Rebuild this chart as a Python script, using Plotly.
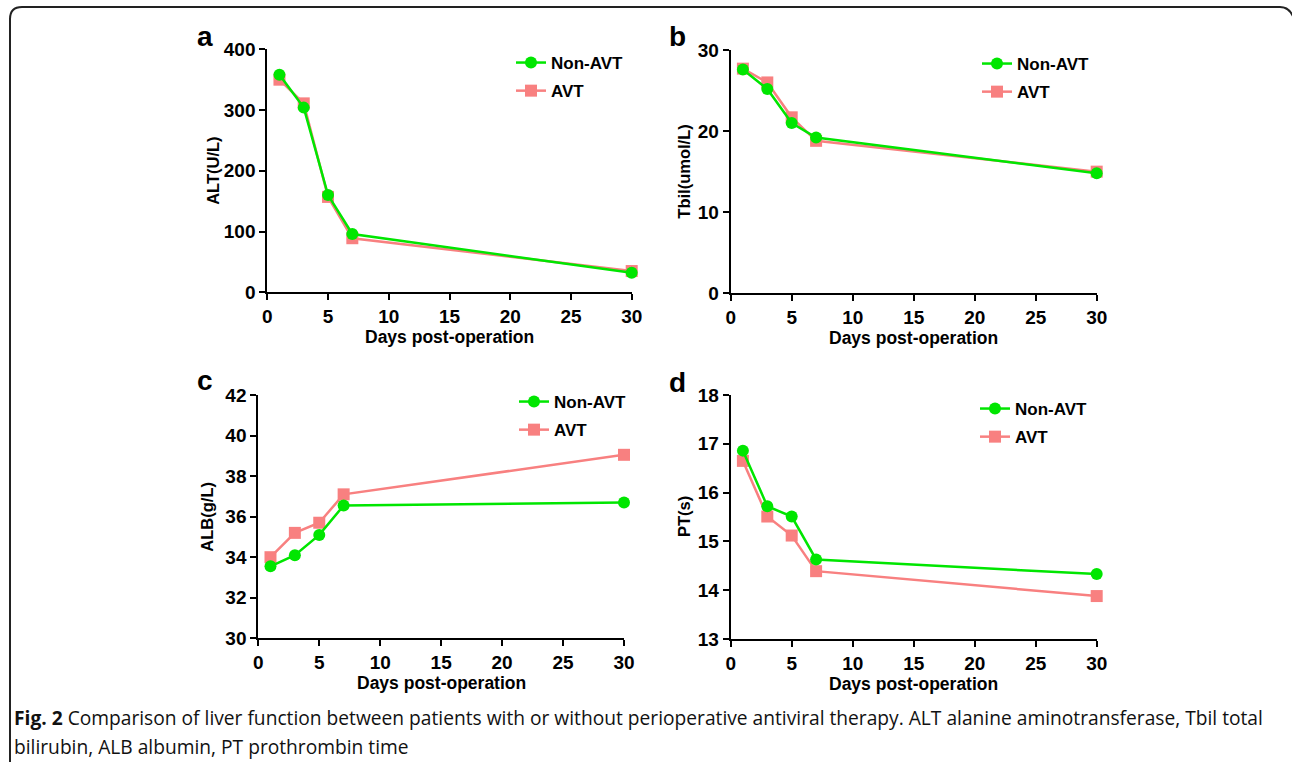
import plotly.graph_objects as go

days = [1, 3, 5, 7, 30]

alt_non = [358, 304, 160, 96, 32]
alt_avt = [350, 311, 157, 89, 35]
tbil_non = [27.6, 25.2, 21.0, 19.2, 14.8]
tbil_avt = [27.7, 26.0, 21.7, 18.8, 15.0]
alb_non = [33.55, 34.1, 35.1, 36.55, 36.7]
alb_avt = [34.0, 35.2, 35.7, 37.1, 39.05]
pt_non = [16.86, 15.72, 15.51, 14.63, 14.33]
pt_avt = [16.65, 15.51, 15.12, 14.39, 13.88]

y_titles = ["ALT(U/L)", "Tbil(umol/L)", "ALB(g/L)", "PT(s)"]
y_ranges = [(0, 400, 100), (0, 30, 10), (30, 42, 2), (13, 18, 1)]
panel_letters = ["a", "b", "c", "d"]
x_title = "Days post-operation"
series_names = ["Non-AVT", "AVT"]
caption_bold = "Fig. 2"
caption_rest = (" Comparison of liver function between patients with or without perioperative antiviral therapy. "
                "ALT alanine aminotransferase, Tbil total")
caption_line2 = "bilirubin, ALB albumin, PT prothrombin time"

W, H = 1292, 762
GREEN = "#00E600"
PINK = "#F88080"
FONT = "Arial, Liberation Sans, sans-serif"

def fx(px):
    return px / W

def fy(py):
    return 1 - py / H

# pixel boxes for each panel: (x0, x1, ytop, ybottom)
boxes = [
    (267.3, 631.7, 49.3, 292.3),
    (730.7, 1096.7, 50.0, 293.3),
    (258.3, 624.0, 395.0, 638.3),
    (730.7, 1096.7, 395.0, 639.0),
]
legend_pos = [(511, 45), (977, 46), (514, 384), (975, 391)]
letter_pos = [(205, 37), (677, 37), (205, 380), (677, 382)]
ytitle_x = [213, 684, 207, 684]

data = [(alt_non, alt_avt), (tbil_non, tbil_avt), (alb_non, alb_avt), (pt_non, pt_avt)]

fig = go.Figure()
layout = dict(
    width=W, height=H, margin=dict(l=0, r=0, t=0, b=0),
    paper_bgcolor="white", plot_bgcolor="white",
    font=dict(family=FONT, color="black"),
    annotations=[], shapes=[],
)

for i in range(4):
    n = "" if i == 0 else str(i + 1)
    xa = "xaxis" + n
    ya = "yaxis" + n
    leg = "legend" + n
    x0, x1, yt, yb = boxes[i]
    non, avt = data[i]
    fig.add_trace(go.Scatter(
        x=days, y=avt, name=series_names[1], mode="lines+markers",
        line=dict(color=PINK, width=2.5), marker=dict(symbol="square", size=12, color=PINK),
        xaxis="x" + n, yaxis="y" + n, legend=leg, legendgroup="avt" + n, legendrank=2,
        cliponaxis=False,
    ))
    fig.add_trace(go.Scatter(
        x=days, y=non, name=series_names[0], mode="lines+markers",
        line=dict(color=GREEN, width=2.5), marker=dict(symbol="circle", size=12, color=GREEN),
        xaxis="x" + n, yaxis="y" + n, legend=leg, legendgroup="non" + n, legendrank=1,
        cliponaxis=False,
    ))
    lo, hi, dt = y_ranges[i]
    axfont = dict(family=FONT, size=19, color="black", weight="bold")
    layout[xa] = dict(
        domain=[fx(x0), fx(x1)], range=[0, 30], tickmode="linear", tick0=0, dtick=5,
        showline=True, linecolor="black", linewidth=2, ticks="outside", ticklen=6,
        tickwidth=2, tickcolor="black", showgrid=False, zeroline=False,
        anchor="y" + n, tickfont=axfont, automargin=False,
    )
    layout[ya] = dict(
        domain=[fy(yb), fy(yt)], range=[lo, hi], tickmode="linear", tick0=lo, dtick=dt,
        showline=True, linecolor="black", linewidth=2, ticks="outside", ticklen=6,
        tickwidth=2, tickcolor="black", showgrid=False, zeroline=False,
        anchor="x" + n, tickfont=axfont, automargin=False,
    )
    lx, ly = legend_pos[i]
    layout[leg] = dict(
        x=fx(lx), y=fy(ly), xanchor="left", yanchor="top", bgcolor="rgba(0,0,0,0)",
        font=dict(family=FONT, size=17, color="black", weight="bold"),
        itemwidth=30, tracegroupgap=3,
    )
    # axis titles
    layout["annotations"].append(dict(
        text="<b>%s</b>" % x_title, x=fx((x0 + x1) / 2), y=fy(yb + 45), xref="paper", yref="paper",
        showarrow=False, font=dict(family=FONT, size=17.5), xanchor="center", yanchor="middle",
    ))
    layout["annotations"].append(dict(
        text="<b>%s</b>" % y_titles[i], x=fx(ytitle_x[i]), y=fy((yt + yb) / 2), xref="paper", yref="paper",
        showarrow=False, font=dict(family=FONT, size=16.5), textangle=-90, xanchor="center", yanchor="middle",
    ))
    px, py = letter_pos[i]
    layout["annotations"].append(dict(
        text="<b>%s</b>" % panel_letters[i], x=fx(px), y=fy(py), xref="paper", yref="paper",
        showarrow=False, font=dict(family=FONT, size=28), xanchor="center", yanchor="middle",
    ))

CAP = "Open Sans, sans-serif"
layout["annotations"].append(dict(
    text="<b>%s</b>%s" % (caption_bold, caption_rest), x=fx(12), y=fy(717), xref="paper", yref="paper",
    showarrow=False, font=dict(family=CAP, size=19.2, color="#111"), xanchor="left", yanchor="middle",
))
layout["annotations"].append(dict(
    text=caption_line2, x=fx(12), y=fy(746), xref="paper", yref="paper",
    showarrow=False, font=dict(family=CAP, size=19.2, color="#111"), xanchor="left", yanchor="middle",
))

# rounded frame
path = ("M %f,%f L %f,%f Q %f,%f %f,%f L %f,%f Q %f,%f %f,%f L %f,%f" % (
    fx(10), fy(800), fx(10), fy(19), fx(10), fy(7), fx(22), fy(7),
    fx(1280), fy(7), fx(1290), fy(7), fx(1294), fy(19), fx(1294), fy(800)))
layout["shapes"].append(dict(type="path", path=path, xref="paper", yref="paper",
                             line=dict(color="#222", width=2)))

fig.update_layout(**layout)
fig.write_html("out.html")
